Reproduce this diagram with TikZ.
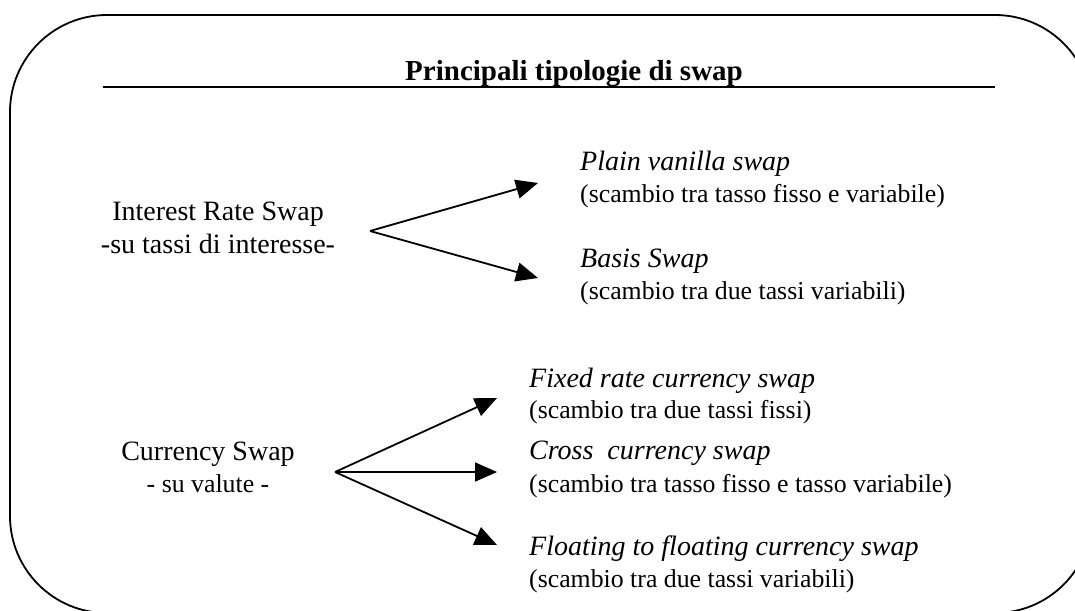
\documentclass[tikz,border=0pt]{standalone}
\usepackage{fontspec}
\setmainfont{Liberation Serif}
\usetikzlibrary{arrows.meta}
\tikzset{
  frame/.style={line width=1.8pt, rounded corners=97pt},
  conn/.style={line width=1.8pt, -{Triangle[length=22pt,width=19pt]}},
  lbl/.style={anchor=base west, inner sep=0pt, font=\fontsize{25.8}{30}\selectfont},
  ilbl/.style={anchor=base west, inner sep=0pt, font=\fontsize{28}{33}\selectfont\itshape},
  clbl/.style={anchor=base, inner sep=0pt, font=\fontsize{28}{33}\selectfont},
}
\begin{document}
\begin{tikzpicture}[x=1pt,y=-1pt]
\useasboundingbox (0,0) rectangle (1075,610);
\begin{scope}
\clip (0,0) rectangle (1075,610);
\draw[frame] (10,15) rectangle (1092,613);
\end{scope}
% title
\node[anchor=base, inner sep=0pt, font=\fontsize{29}{34}\selectfont\bfseries] (title) at (574,81) {Principali tipologie di swap};
\coordinate (ulA) at (103,87);
\coordinate (ulB) at (995,87);
\draw[line width=1.8pt] (ulA) -- (ulB);
% interest rate swap
\node[clbl] (irs) at (218,220) {Interest Rate Swap};
\node[clbl] (irs2) at (218,253) {-su tassi di interesse-};
\coordinate (irsA) at (370,231);
\coordinate (pvT) at (538,183);
\coordinate (bsT) at (538,278);
\draw[conn] (irsA) -- (pvT);
\draw[conn] (irsA) -- (bsT);
\node[ilbl] (pv) at (580,170) {Plain vanilla swap};
\node[lbl] (pv2) at (580,202) {(scambio tra tasso fisso e variabile)};
\node[ilbl] (bs) at (580,267) {Basis Swap};
\node[lbl] (bs2) at (580,299) {(scambio tra due tassi variabili)};
% currency swap
\node[clbl] (cs) at (208,460) {Currency Swap};
\node[clbl, font=\fontsize{25.8}{30}\selectfont] (cs2) at (208,492) {- su valute -};
\coordinate (csA) at (335,472);
\coordinate (frT) at (497,398);
\coordinate (ccT) at (497,472);
\coordinate (ffT) at (497,545);
\draw[conn] (csA) -- (frT);
\draw[conn] (csA) -- (ccT);
\draw[conn] (csA) -- (ffT);
\node[ilbl] (fr) at (529,387) {Fixed rate currency swap};
\node[lbl] (fr2) at (529,418) {(scambio tra due tassi fissi)};
\node[ilbl] (cc) at (529,459) {Cross\ \ currency swap};
\node[lbl] (cc2) at (529,492) {(scambio tra tasso fisso e tasso variabile)};
\node[ilbl] (ff) at (529,555) {Floating to floating currency swap};
\node[lbl] (ff2) at (529,587) {(scambio tra due tassi variabili)};
\end{tikzpicture}
\end{document}
